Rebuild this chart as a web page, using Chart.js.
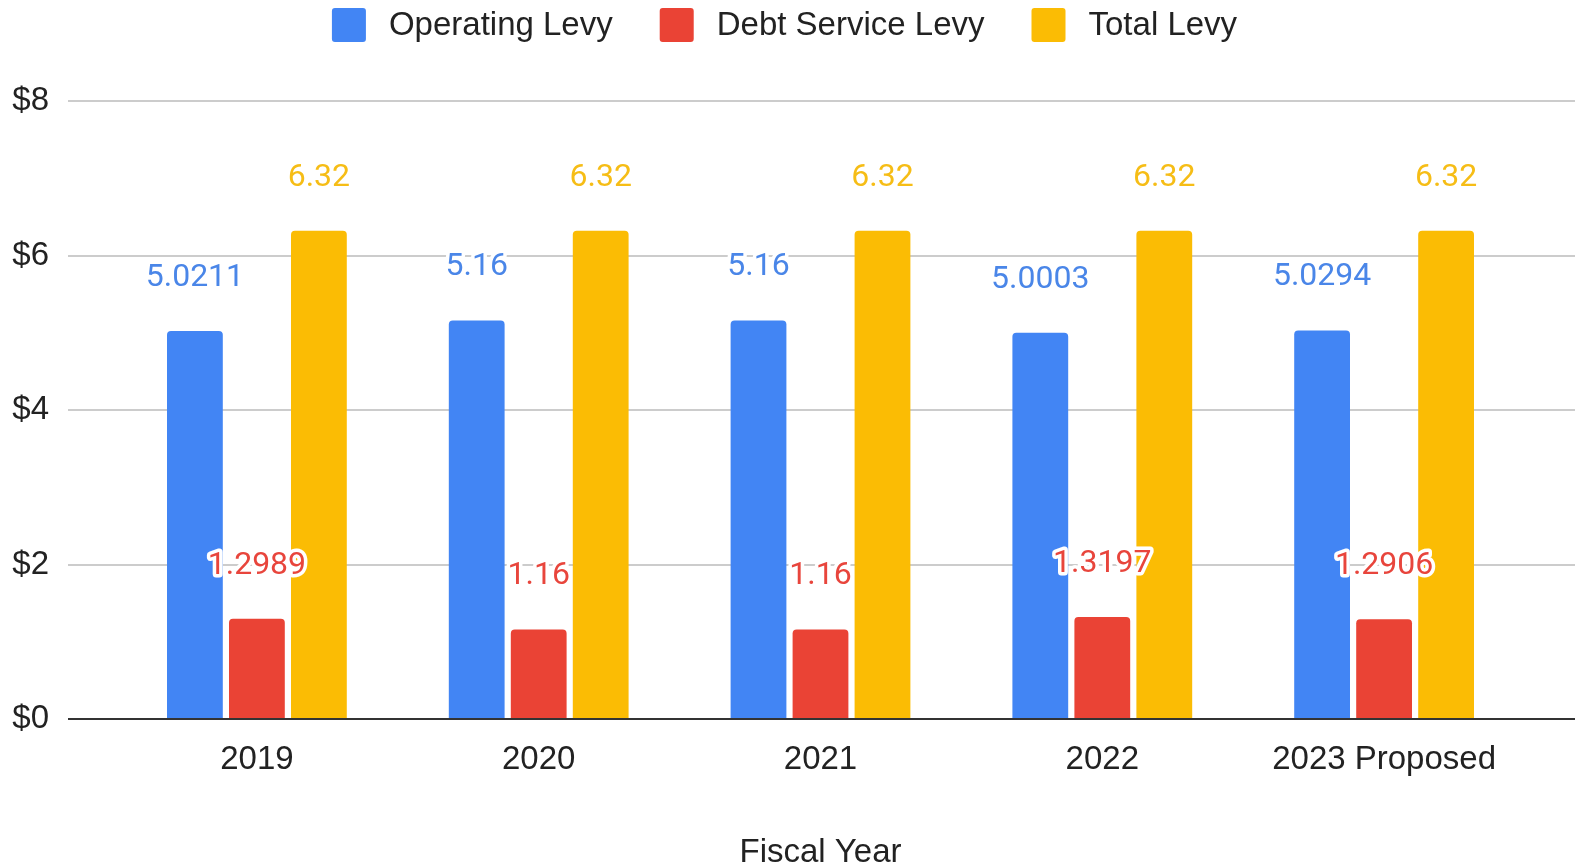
<!DOCTYPE html>
<html>
<head>
<meta charset="utf-8">
<title>Levy by Fiscal Year</title>
<script src="https://cdn.jsdelivr.net/npm/chart.js@4/dist/chart.umd.min.js"></script>
<style>
  html, body { margin: 0; padding: 0; background: #fff; }
  #wrap { width: 1577px; height: 865px; }
</style>
</head>
<body>
<div id="wrap"><canvas id="levyChart"></canvas></div>
<script>
const years = ["2019", "2020", "2021", "2022", "2023 Proposed"];
const operatingLevy = [5.0211, 5.16, 5.16, 5.0003, 5.0294];
const debtServiceLevy = [1.2989, 1.16, 1.16, 1.3197, 1.2906];
const totalLevy = [6.32, 6.32, 6.32, 6.32, 6.32];
const yTicks = [0, 2, 4, 6, 8];

const AXIS_FONT = "'Liberation Sans', Arial, sans-serif";
const LABEL_FONT = "Roboto, 'Noto Sans', sans-serif";
const TEXT = "#222222";

// horizontal gridlines run a bit past the bars on both sides
const gridLines = {
  id: "gridLines",
  beforeDatasetsDraw(chart) {
    const { ctx, chartArea, scales } = chart;
    ctx.save();
    ctx.strokeStyle = "#cccccc";
    ctx.lineWidth = 2;
    yTicks.forEach((t) => {
      if (t === 0) return;
      const y = Math.round(scales.y.getPixelForValue(t));
      ctx.beginPath();
      ctx.moveTo(chartArea.left - 48, y);
      ctx.lineTo(chartArea.right + 50, y);
      ctx.stroke();
    });
    ctx.restore();
  },
  afterDatasetsDraw(chart) {
    const { ctx, chartArea, scales } = chart;
    const y = Math.round(scales.y.getPixelForValue(0));
    ctx.save();
    ctx.strokeStyle = "#333333";
    ctx.lineWidth = 2;
    ctx.beginPath();
    ctx.moveTo(chartArea.left - 48, y);
    ctx.lineTo(chartArea.right + 50, y);
    ctx.stroke();
    ctx.restore();
  },
};

// value labels above each bar, white halo so they read over other bars
const valueLabels = {
  id: "valueLabels",
  afterDatasetsDraw(chart) {
    const { ctx } = chart;
    ctx.save();
    ctx.font = "32px " + LABEL_FONT;
    ctx.textAlign = "center";
    ctx.textBaseline = "middle";
    ctx.lineJoin = "round";
    chart.data.datasets.forEach((ds, i) => {
      const meta = chart.getDatasetMeta(i);
      meta.data.forEach((bar, j) => {
        const txt = String(ds.data[j]);
        const y = bar.y - 53;
        ctx.strokeStyle = "#ffffff";
        ctx.lineWidth = 7;
        ctx.strokeText(txt, bar.x, y);
        ctx.fillStyle = ds.labelColor;
        ctx.fillText(txt, bar.x, y);
      });
    });
    ctx.restore();
  },
};

// legend row at the top, centred on the canvas
const topLegend = {
  id: "topLegend",
  afterDraw(chart) {
    const { ctx, width } = chart;
    const box = 34;
    const gap = 23;
    const spacing = 47;
    ctx.save();
    ctx.font = "33px " + AXIS_FONT;
    ctx.textBaseline = "middle";
    const items = chart.data.datasets.map((ds) => ({
      label: ds.label,
      color: ds.backgroundColor,
      w: ctx.measureText(ds.label).width,
    }));
    let total = 0;
    items.forEach((it, i) => {
      total += box + gap + it.w + (i < items.length - 1 ? spacing : 0);
    });
    let x = width / 2 - 4 - total / 2;
    const cy = 25;
    items.forEach((it) => {
      ctx.fillStyle = it.color;
      ctx.beginPath();
      ctx.roundRect(x, cy - box / 2, box, box, 3);
      ctx.fill();
      ctx.fillStyle = TEXT;
      ctx.fillText(it.label, x + box + gap, cy + 1);
      x += box + gap + it.w + spacing;
    });
    ctx.restore();
  },
};

const barStyle = {
  borderRadius: 4,
  categoryPercentage: 0.66,
  barPercentage: 0.9,
};

new Chart(document.getElementById("levyChart"), {
  type: "bar",
  data: {
    labels: years,
    datasets: [
      { label: "Operating Levy", data: operatingLevy, backgroundColor: "#4285f4", labelColor: "#4a86e8", ...barStyle },
      { label: "Debt Service Levy", data: debtServiceLevy, backgroundColor: "#ea4335", labelColor: "#e8453c", ...barStyle },
      { label: "Total Levy", data: totalLevy, backgroundColor: "#fbbc04", labelColor: "#f6bd16", ...barStyle },
    ],
  },
  options: {
    responsive: true,
    maintainAspectRatio: false,
    animation: false,
    layout: { padding: { top: 101, left: 0, right: 52, bottom: 0 } },
    plugins: {
      legend: { display: false },
      tooltip: { enabled: false },
    },
    scales: {
      x: {
        grid: { display: false, drawTicks: false },
        border: { display: false },
        ticks: { color: TEXT, font: { family: AXIS_FONT, size: 33 }, padding: 21 },
        title: {
          display: true,
          text: "Fiscal Year",
          color: TEXT,
          font: { family: AXIS_FONT, size: 33 },
          padding: { top: 0, bottom: -8 },
        },
        afterFit: (scale) => { scale.height = 146; },
      },
      y: {
        min: 0,
        max: 8,
        grid: { display: false, drawTicks: false },
        border: { display: false },
        ticks: {
          stepSize: 2,
          color: TEXT,
          font: { family: AXIS_FONT, size: 33 },
          padding: 67,
          callback: (v) => "$" + v,
        },
        afterFit: (scale) => { scale.width = 116; },
      },
    },
  },
  plugins: [gridLines, valueLabels, topLegend],
});
</script>
</body>
</html>
